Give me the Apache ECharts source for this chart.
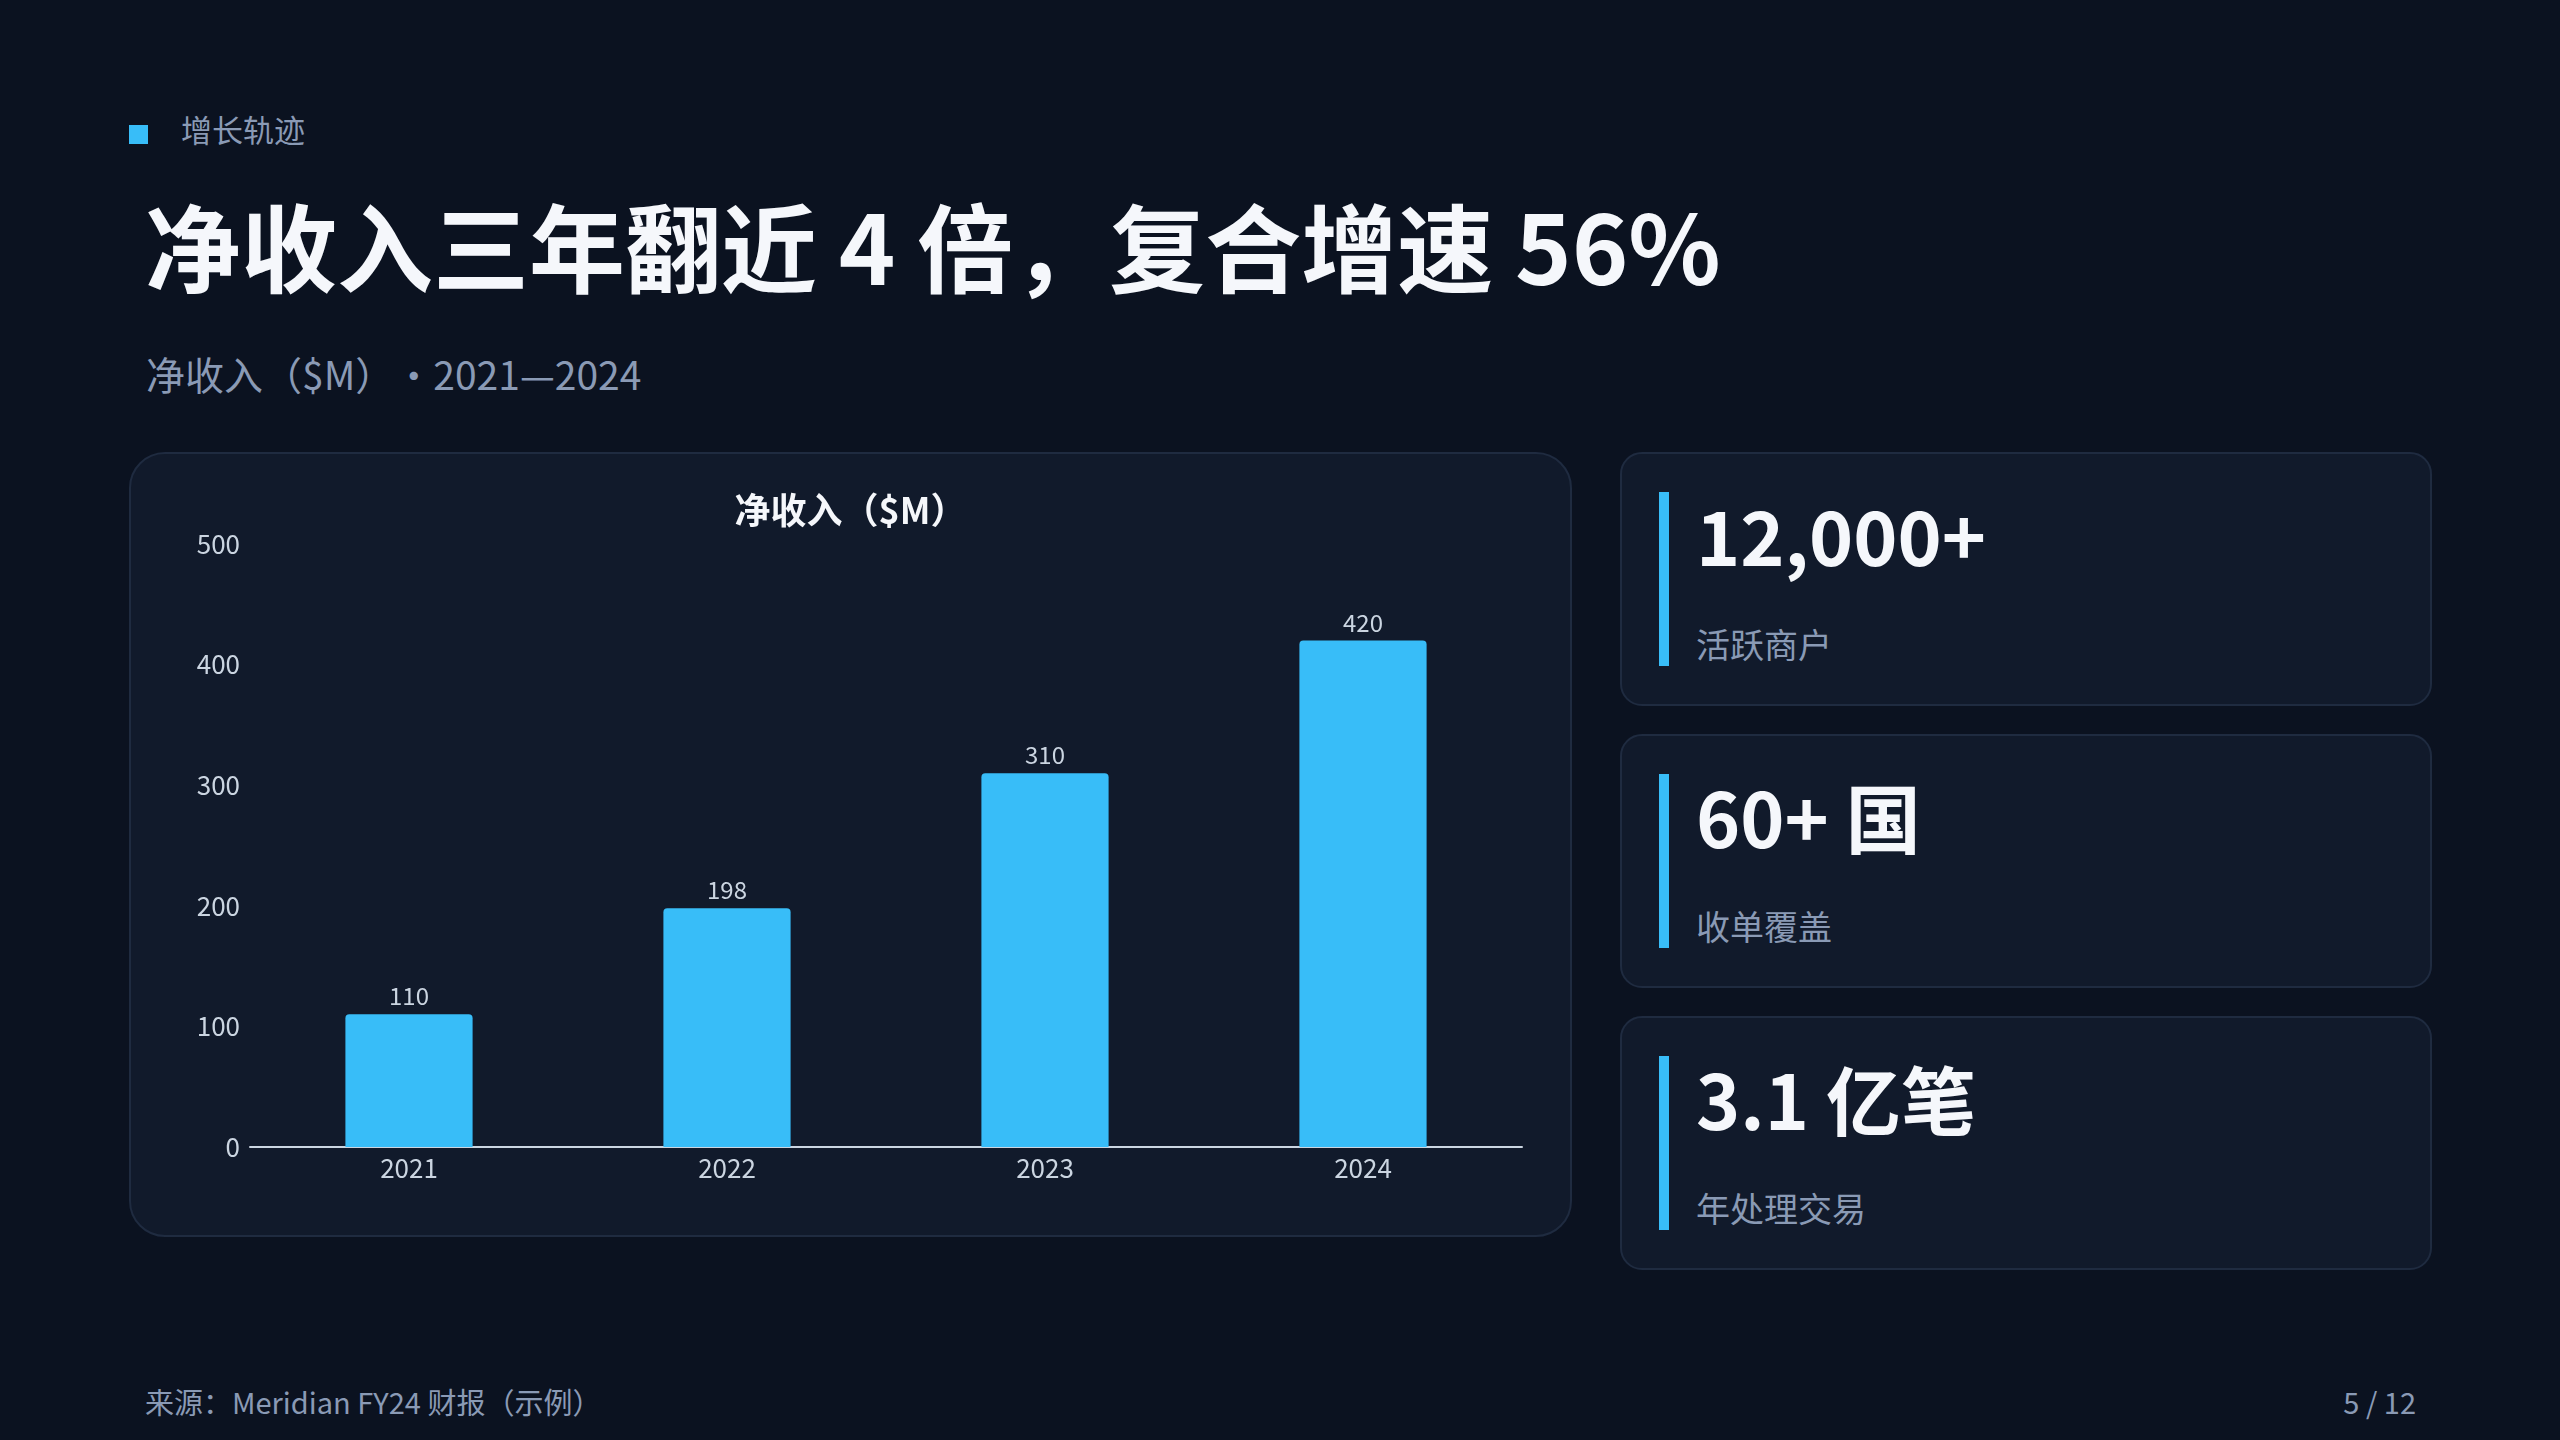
<!DOCTYPE html>
<html>
<head>
<meta charset="utf-8">
<script src="https://cdn.jsdelivr.net/npm/echarts@6/dist/echarts.min.js"></script>
<style>
  html, body { margin: 0; padding: 0; }
  body {
    width: 2560px; height: 1440px; overflow: hidden; position: relative;
    background: #0b1220;
    font-family: "Noto Sans CJK SC", "Noto Sans", sans-serif;
  }
  .abs { position: absolute; white-space: nowrap; }
  .kicker-mark { left: 129px; top: 125px; width: 19px; height: 19px; background: #38bdf8; }
  .kicker { left: 181px; top: 108px; font-size: 31px; line-height: 42px; color: #8a9ab5; }
  .title { left: 145px; top: 184px; font-size: 96px; line-height: 120px; font-weight: 700; color: #f5f7fb; }
  .subtitle { left: 146px; top: 350px; font-size: 39px; line-height: 46px; color: #8a9ab5; text-spacing-trim: space-all; }
  .card {
    position: absolute; box-sizing: border-box;
    background: #111a2b; border: 2px solid #1f2b40; border-radius: 36px;
  }
  .stat { border-radius: 22px; }
  .bar { position: absolute; left: 37px; top: 38px; width: 10px; height: 174px; background: #38bdf8; }
  .val { position: absolute; left: 74px; top: 30px; font-size: 75px; line-height: 100px; font-weight: 700; color: #f5f7fb; }
  .lab { position: absolute; left: 74px; top: 168px; font-size: 34px; line-height: 44px; color: #8a9ab5; }
  .foot { top: 1381px; font-size: 29px; line-height: 40px; color: #8a9ab5; }
  #chart { position: absolute; left: 0; top: 0; width: 100%; height: 100%; }
</style>
</head>
<body>
<div class="abs kicker-mark"></div>
<div class="abs kicker">增长轨迹</div>
<div class="abs title">净收入三年翻近 4 倍，复合增速 56%</div>
<div class="abs subtitle">净收入（$M）·2021—2024</div>

<div class="card" style="left:129px; top:452px; width:1443px; height:785px;">
  <div id="chart"></div>
</div>

<div class="card stat" style="left:1620px; top:452px; width:812px; height:254px;">
  <div class="bar"></div>
  <div class="val">12,000+</div>
  <div class="lab">活跃商户</div>
</div>
<div class="card stat" style="left:1620px; top:734px; width:812px; height:254px;">
  <div class="bar"></div>
  <div class="val">60+ 国</div>
  <div class="lab">收单覆盖</div>
</div>
<div class="card stat" style="left:1620px; top:1016px; width:812px; height:254px;">
  <div class="bar"></div>
  <div class="val">3.1 亿笔</div>
  <div class="lab">年处理交易</div>
</div>

<div class="abs foot" style="left:145px;">来源：Meridian FY24 财报（示例）</div>
<div class="abs foot" style="right:144px;">5 / 12</div>

<script>
// 数据
const years = ['2021', '2022', '2023', '2024'];
const netRevenue = [110, 198, 310, 420];
const yTicks = [0, 100, 200, 300, 400, 500];

const chart = echarts.init(document.getElementById('chart'));
const font = '"Noto Sans CJK SC", "Noto Sans", sans-serif';

chart.setOption({
  animation: false,
  title: {
    text: '净收入（$M）',
    left: 'center',
    top: 33,
    textStyle: { color: '#f5f7fb', fontSize: 36, fontWeight: 'bold', fontFamily: font }
  },
  grid: { left: 119, right: 48, top: 90, bottom: 88 },
  xAxis: {
    type: 'category',
    data: years,
    axisLine: { lineStyle: { color: '#cbd5e1', width: 2 } },
    axisTick: { show: false },
    axisLabel: { color: '#cbd5e1', fontSize: 26, margin: 8, fontFamily: font }
  },
  yAxis: {
    type: 'value',
    min: yTicks[0],
    max: yTicks[yTicks.length - 1],
    interval: yTicks[1] - yTicks[0],
    axisLine: { show: false },
    axisTick: { show: false },
    splitLine: { show: false },
    axisLabel: { color: '#cbd5e1', fontSize: 26, margin: 10, fontFamily: font }
  },
  series: [{
    type: 'bar',
    data: netRevenue,
    barWidth: '40%',
    itemStyle: { color: '#38bdf8', borderRadius: [4, 4, 0, 0] },
    label: {
      show: true,
      position: 'top',
      distance: 6,
      color: '#cbd5e1',
      fontSize: 24,
      fontFamily: font
    }
  }]
});
</script>
</body>
</html>
